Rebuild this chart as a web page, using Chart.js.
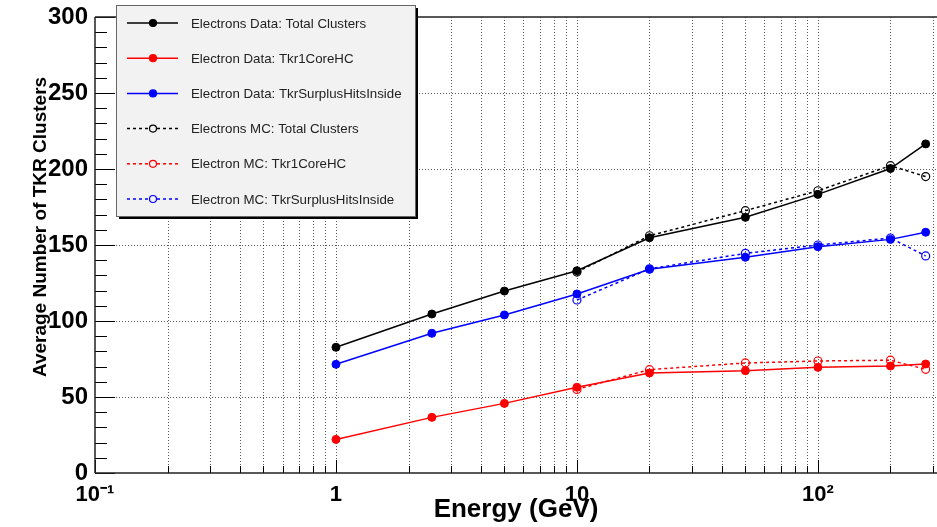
<!DOCTYPE html>
<html>
<head>
<meta charset="utf-8">
<script src="https://cdn.jsdelivr.net/npm/chart.js@4.4.1/dist/chart.umd.min.js"></script>
<style>
  html, body { margin: 0; padding: 0; background: #ffffff; overflow: hidden; }
  canvas { display: block; }
</style>
</head>
<body>
<canvas id="c" width="937" height="527"></canvas>
<script>
// ---- data ----
const energyData = [1, 2.5, 5, 10, 20, 50, 100, 200, 280];
const energyMC = [10, 20, 50, 100, 200, 280];

const dataTotal   = [82.7, 104.6, 119.7, 133.1, 154.8, 168.2, 183.3, 200.3, 216.5];
const dataCore    = [22.1, 36.6, 45.8, 56.4, 65.8, 67.3, 69.5, 70.4, 71.7];
const dataSurplus = [71.5, 91.9, 104.0, 117.8, 134.0, 141.9, 148.9, 153.7, 158.4];

const mcTotal   = [132.2, 156.1, 172.6, 185.7, 202.2, 195.0];
const mcCore    = [55.0, 68.0, 72.4, 73.7, 74.2, 68.2];
const mcSurplus = [113.8, 134.3, 144.5, 150.0, 154.6, 142.8];

const seriesLabels = [
  'Electrons Data: Total Clusters',
  'Electron Data: Tkr1CoreHC',
  'Electron Data: TkrSurplusHitsInside',
  'Electrons MC: Total Clusters',
  'Electron MC: Tkr1CoreHC',
  'Electron MC: TkrSurplusHitsInside'
];

// tick values / labels
const xTickValues = [0.1,0.2,0.3,0.4,0.5,0.6,0.7,0.8,0.9,1,2,3,4,5,6,7,8,9,10,20,30,40,50,60,70,80,90,100,200,300];
const xMajorValues = [0.1, 1, 10, 100];
const xMajorLabels = ['10\u207B\u00B9', '1', '10', '10\u00B2'];
const yMajorValues = [0, 50, 100, 150, 200, 250, 300];

const xTitle = 'Energy (GeV)';
const yTitle = 'Average Number of TKR Clusters';

const FONT = '"Liberation Sans", Arial, Helvetica, sans-serif';

function pts(xs, ys) { return xs.map((x, i) => ({ x: x, y: ys[i] })); }

function dataSet(label, xs, ys, color) {
  return {
    label: label, data: pts(xs, ys),
    borderColor: color, backgroundColor: color,
    borderWidth: 1.5, tension: 0,
    pointRadius: 4, pointHoverRadius: 4,
    pointBackgroundColor: color, pointBorderColor: color, pointBorderWidth: 1
  };
}
function mcSet(label, xs, ys, color) {
  return {
    label: label, data: pts(xs, ys),
    borderColor: color, backgroundColor: 'rgba(0,0,0,0)',
    borderWidth: 1.5, borderDash: [3, 3], tension: 0,
    pointRadius: 4, pointHoverRadius: 4,
    pointBackgroundColor: 'rgba(255,255,255,0)', pointBorderColor: color, pointBorderWidth: 1.2
  };
}

const datasets = [
  dataSet(seriesLabels[0], energyData, dataTotal, '#000000'),
  dataSet(seriesLabels[1], energyData, dataCore, '#ff0000'),
  dataSet(seriesLabels[2], energyData, dataSurplus, '#0000ff'),
  mcSet(seriesLabels[3], energyMC, mcTotal, '#000000'),
  mcSet(seriesLabels[4], energyMC, mcCore, '#ff0000'),
  mcSet(seriesLabels[5], energyMC, mcSurplus, '#0000ff')
];

// grid, frame and inward tick marks
const framePlugin = {
  id: 'frame',
  beforeDatasetsDraw(chart) {
    const { ctx, chartArea: a, scales: { x, y } } = chart;
    ctx.save();
    // dotted grid
    ctx.strokeStyle = 'rgba(0,0,0,0.65)';
    ctx.lineWidth = 1;
    ctx.setLineDash([1, 2]);
    x.ticks.forEach(t => {
      const px = Math.round(x.getPixelForValue(t.value)) + 0.5;
      if (px <= a.left + 1 || px > a.right) return;
      ctx.beginPath(); ctx.moveTo(px, a.top); ctx.lineTo(px, a.bottom); ctx.stroke();
    });
    y.ticks.forEach(t => {
      if (t.value % 50 !== 0 || t.value === 0 || t.value === 300) return;
      const py = Math.round(y.getPixelForValue(t.value)) + 0.5;
      ctx.beginPath(); ctx.moveTo(a.left, py); ctx.lineTo(a.right, py); ctx.stroke();
    });
    ctx.setLineDash([]);
    // tick marks
    ctx.strokeStyle = '#000';
    ctx.lineWidth = 1;
    x.ticks.forEach(t => {
      const px = Math.round(x.getPixelForValue(t.value)) + 0.5;
      const len = xMajorValues.includes(t.value) ? 13 : 7;
      ctx.beginPath(); ctx.moveTo(px, a.bottom); ctx.lineTo(px, a.bottom - len); ctx.stroke();
    });
    y.ticks.forEach(t => {
      const py = Math.round(y.getPixelForValue(t.value)) + 0.5;
      const len = (t.value % 50 === 0) ? 20 : 12;
      ctx.beginPath(); ctx.moveTo(a.left, py); ctx.lineTo(a.left + len, py); ctx.stroke();
    });
    // frame lines
    ctx.strokeStyle = '#222';
    ctx.lineWidth = 1.5;
    ctx.beginPath();
    ctx.moveTo(a.left, a.top); ctx.lineTo(a.right, a.top);
    ctx.moveTo(a.left, a.top); ctx.lineTo(a.left, a.bottom);
    ctx.moveTo(a.left, a.bottom); ctx.lineTo(a.right, a.bottom);
    ctx.stroke();
    ctx.restore();
  },
  afterDraw(chart) {
    const { ctx } = chart;
    ctx.save();
    // y axis title (placed like the reference, not centred)
    ctx.translate(41, 227);
    ctx.rotate(-Math.PI / 2);
    ctx.font = 'bold 19px ' + FONT;
    ctx.fillStyle = '#000';
    ctx.textAlign = 'center';
    ctx.textBaseline = 'middle';
    ctx.fillText(yTitle, 0, 0);
    ctx.restore();

    // legend box
    const bx = 116, by = 5, bw = 299, bh = 211;
    ctx.save();
    ctx.fillStyle = '#000';
    ctx.fillRect(bx + 3, by + 3, bw, bh);
    ctx.fillStyle = '#f2f2f2';
    ctx.fillRect(bx, by, bw, bh);
    ctx.strokeStyle = '#666';
    ctx.lineWidth = 1;
    ctx.strokeRect(bx + 0.5, by + 0.5, bw, bh);
    chart.data.datasets.forEach((ds, i) => {
      const ry = by + 18 + i * 35.2;
      ctx.strokeStyle = ds.borderColor;
      ctx.lineWidth = 1.5;
      ctx.setLineDash(ds.borderDash || []);
      ctx.beginPath(); ctx.moveTo(127, ry); ctx.lineTo(178, ry); ctx.stroke();
      ctx.setLineDash([]);
      ctx.beginPath(); ctx.arc(153, ry, 3.5, 0, Math.PI * 2);
      ctx.fillStyle = ds.borderDash ? '#f2f2f2' : ds.borderColor;
      ctx.fill();
      ctx.lineWidth = 1.2;
      ctx.stroke();
      ctx.fillStyle = '#222';
      ctx.font = '13.3px ' + FONT;
      ctx.textAlign = 'left';
      ctx.textBaseline = 'middle';
      ctx.fillText(ds.label, 191, ry + 1);
    });
    ctx.restore();
  }
};

new Chart(document.getElementById('c'), {
  type: 'line',
  data: { datasets: datasets },
  options: {
    responsive: false,
    animation: false,
    devicePixelRatio: 1,
    layout: { autoPadding: false, padding: { left: 0, right: 0, top: 17, bottom: 0 } },
    plugins: { legend: { display: false }, tooltip: { enabled: false } },
    scales: {
      x: {
        type: 'logarithmic',
        min: 0.1, max: 312,
        afterFit: s => { s.height = 54; s.paddingRight = 0; s.paddingLeft = 0; },
        afterBuildTicks: s => { s.ticks = xTickValues.map(v => ({ value: v })); },
        grid: { display: false, drawTicks: false },
        border: { display: false },
        ticks: {
          autoSkip: false, maxRotation: 0, minRotation: 0, padding: 9,
          color: '#000',
          font: { family: FONT, size: 22, weight: 'bold' },
          callback: function (v) {
            const i = xMajorValues.indexOf(v);
            return i >= 0 ? xMajorLabels[i] : '';
          }
        },
        title: {
          display: true, text: xTitle, color: '#000',
          font: { family: FONT, size: 26, weight: 'bold' },
          padding: { top: 0, bottom: 2 }
        }
      },
      y: {
        type: 'linear',
        min: 0, max: 300,
        afterFit: s => { s.width = 95; s.paddingTop = 0; s.paddingBottom = 0; },
        grid: { display: false, drawTicks: false },
        border: { display: false },
        ticks: {
          stepSize: 10, autoSkip: false, padding: 7,
          color: '#000',
          font: { family: FONT, size: 24, weight: 'bold' },
          callback: v => (yMajorValues.includes(v) ? String(v) : '')
        }
      }
    }
  },
  plugins: [framePlugin]
});
</script>
</body>
</html>
